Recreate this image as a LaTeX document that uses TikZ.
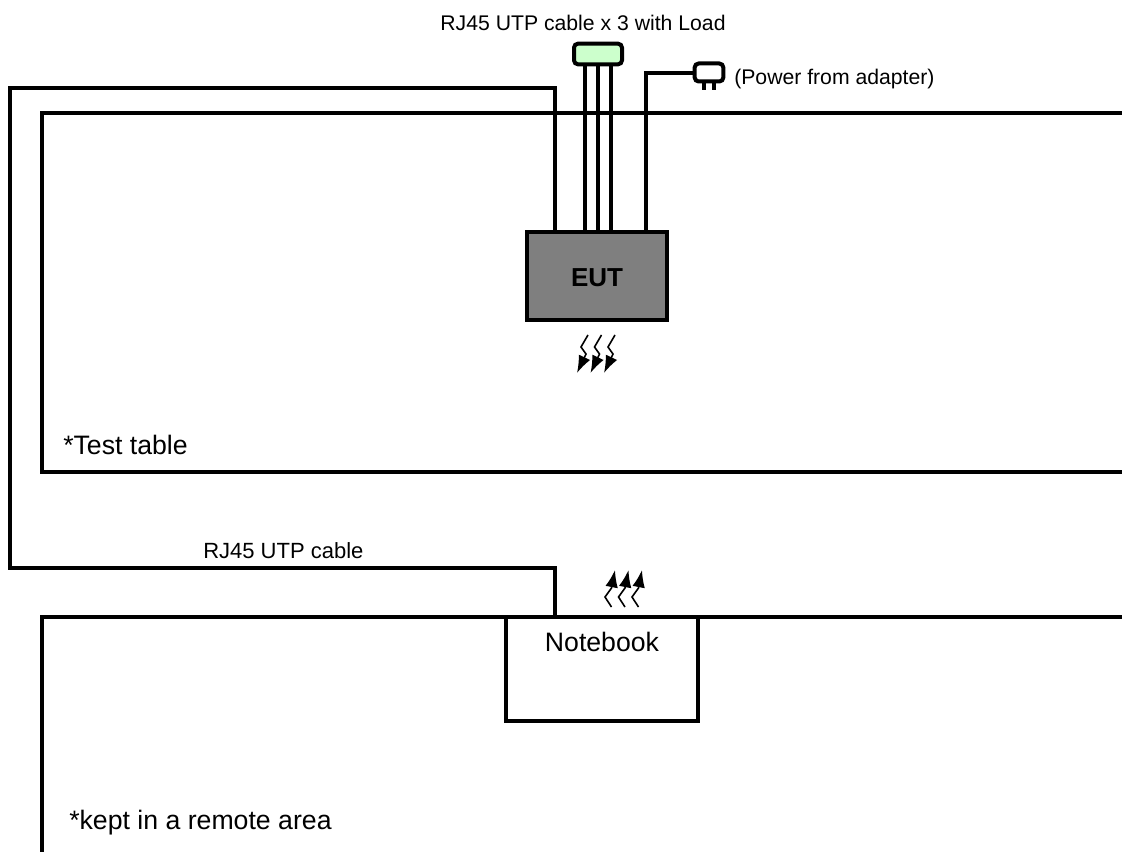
\documentclass[tikz,border=0pt]{standalone}
\usepackage{fontspec}
\setmainfont{Liberation Sans}
\usetikzlibrary{arrows.meta}
\definecolor{eutgray}{HTML}{7F7F7F}
\definecolor{loadgreen}{HTML}{CCFFCC}
\tikzset{
  wire/.style={line width=3pt,line join=miter},
  boxnode/.style={draw,line width=3pt,inner sep=0pt},
  small/.style={inner sep=0pt,font=\fontsize{15.9}{18}\selectfont},
  big/.style={inner sep=0pt,font=\fontsize{20}{24}\selectfont},
  zig/.style={line width=1.2pt,-{Latex[length=13pt,width=9.5pt]}}
}
\begin{document}
\begin{tikzpicture}[x=0.75pt,y=-0.75pt]
\useasboundingbox (0,0) rectangle (1122,852);
\coordinate (t1) at (1122,113); \coordinate (t2) at (42,113);
\coordinate (t3) at (42,472);   \coordinate (t4) at (1122,472);
\coordinate (r1) at (1122,617); \coordinate (r2) at (42,617);
\coordinate (r3) at (42,852);
\draw[wire] (t1) -- (t2) -- (t3) -- (t4);
\draw[wire] (r1) -- (r2) -- (r3);
\node[boxnode,fill=eutgray,minimum width=104.5pt,minimum height=65.5pt] (eut) at (597,276) {};
\node[inner sep=0pt,anchor=base,font=\bfseries\fontsize{19.5}{24}\selectfont] (eutl) at (597,287) {EUT};
\node[boxnode,fill=white,minimum width=143.7pt,minimum height=78pt] (nb) at (602,669) {};
\node[big,anchor=base] (nbl) at (602,651) {Notebook};
\node[boxnode,fill=loadgreen,rounded corners=3pt,minimum width=36pt,minimum height=15.5pt] (load) at (598,54) {};
\node[boxnode,fill=white,rounded corners=3pt,minimum width=21.5pt,minimum height=13.5pt] (plug) at (709,72.5) {};
\coordinate (p1) at (704,90); \coordinate (p2) at (714,90);
\draw[line width=3pt] (plug.south -| p1) -- (p1);
\draw[line width=3pt] (plug.south -| p2) -- (p2);
\coordinate (e1) at (584.5,232); \coordinate (e2) at (597.5,232); \coordinate (e3) at (610.5,232);
\draw[wire] (load.south -| e1) -- (e1);
\draw[wire] (load.south -| e2) -- (e2);
\draw[wire] (load.south -| e3) -- (e3);
\coordinate (pw) at (646,73);
\draw[wire] (eut.north -| pw) -- (pw) -- (plug.west |- pw);
\coordinate (c1) at (555,88); \coordinate (c2) at (10,88);
\coordinate (c3) at (10,568); \coordinate (c4) at (555,568);
\draw[wire] (eut.north -| c1) -- (c1) -- (c2) -- (c3) -- (c4) -- (nb.north -| c4);
\foreach \d in {0,13.5,27}{
  \draw[zig] ({588+\d},335) -- ({581+\d},347) -- ({586+\d},354) -- ({577+\d},373);
  \draw[zig] ({611.5+\d},607) -- ({605+\d},597) -- ({611.5+\d},588) -- ({615+\d},570);
}
\node[small,anchor=base] (lab1) at (583,31) {RJ45 UTP cable x 3 with Load};
\node[small,anchor=base west] (lab2) at (734,85) {(Power from adapter)};
\node[inner sep=0pt,font=\fontsize{16.5}{18}\selectfont,anchor=base west] (lab3) at (203,558) {RJ45 UTP cable};
\node[big,anchor=base west] (lab4) at (63,455) {*Test table};
\node[big,anchor=base west] (lab5) at (69,829) {*kept in a remote area};
\end{tikzpicture}
\end{document}
